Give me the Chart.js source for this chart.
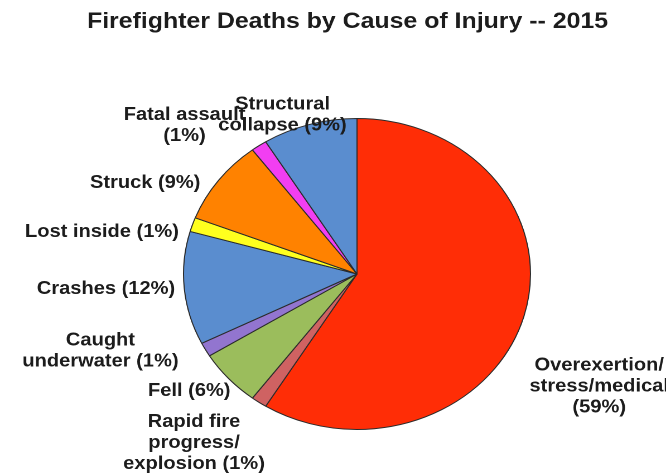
<!DOCTYPE html>
<html>
<head>
<meta charset="utf-8">
<title>Firefighter Deaths by Cause of Injury -- 2015</title>
<script src="https://cdn.jsdelivr.net/npm/chart.js@4.4.1/dist/chart.umd.min.js"></script>
<style>
  html, body { margin: 0; padding: 0; background: #fff; overflow: hidden; }
  /* the source picture is stretched sideways, so the whole chart is too */
  #wrap { width: 597px; height: 473px; transform: scaleX(1.1156); transform-origin: 0 0; }
</style>
</head>
<body>
<div id="wrap"><canvas id="causeChart" width="597" height="473"></canvas></div>
<script>
const chartTitle = "Firefighter Deaths by Cause of Injury -- 2015";

// deaths by cause, 2015 (68 in all), clockwise from 12 o'clock
// {p} is replaced with the rounded percentage
const causes = [
    "Overexertion/\nstress/medical\n({p}%)",
    "Rapid fire\nprogress/\nexplosion ({p}%)",
    "Fell ({p}%)",
    "Caught\nunderwater ({p}%)",
    "Crashes ({p}%)",
    "Lost inside ({p}%)",
    "Struck ({p}%)",
    "Fatal assault\n({p}%)",
    "Structural\ncollapse ({p}%)",
];
const deaths = [40, 1, 4, 1, 8, 1, 6, 1, 6];
const sliceColors = [
    "#ff2d06", "#cf6262", "#9bbd5c", "#9275cf", "#5a8dcf",
    "#ffff1e", "#ff8200", "#f23ef2", "#5a8dcf",
];

// label spot: [turn from slice middle in degrees, distance past the rim]
const labelSpots = [
    [11.5, 89], [6.4, 68], [4.5, 35], [10.6, 87], [1.5, 70],
    [-8.1, 77], [-11.5, 55], [-11.7, 59], [-6.9, 17],
];

const fontFamily = "'Liberation Sans', Arial, sans-serif";

const outsideLabels = {
    id: "outsideLabels",
    afterDatasetsDraw(chart) {
        const ctx = chart.ctx;
        const meta = chart.getDatasetMeta(0);
        const total = deaths.reduce((a, b) => a + b, 0);

        ctx.save();
        ctx.fillStyle = "#1c1c1c";
        ctx.textAlign = "center";
        ctx.textBaseline = "middle";

        // title sits a little left of the pie in the original
        ctx.font = "bold 22.3px " + fontFamily;
        ctx.fillText(chartTitle, 311.5, 22);

        ctx.font = "bold 18px " + fontFamily;
        meta.data.forEach(function (arc, i) {
            const pct = Math.round((deaths[i] / total) * 100);
            const lines = causes[i].replace("{p}", pct).split("\n");
            const angle = (arc.startAngle + arc.endAngle) / 2 + (labelSpots[i][0] * Math.PI) / 180;
            const dist = arc.outerRadius + labelSpots[i][1];
            const x = arc.x + Math.cos(angle) * dist;
            const y = arc.y + Math.sin(angle) * dist;

            lines.forEach(function (line, j) {
                ctx.fillText(line, x, y + (j - (lines.length - 1) / 2) * 21);
            });
        });
        ctx.restore();
    },
};

const ctx = document.getElementById("causeChart").getContext("2d");

new Chart(ctx, {
    type: "pie",
    data: {
        labels: causes,
        datasets: [
            {
                data: deaths,
                backgroundColor: sliceColors,
                borderColor: "#2b2b2b",
                borderWidth: 1,
            },
        ],
    },
    options: {
        responsive: false,
        animation: false,
        devicePixelRatio: 2,
        layout: {
            padding: { left: 120, right: 77, top: 118, bottom: 43 },
        },
        plugins: {
            legend: { display: false },
            tooltip: { enabled: false },
            title: { display: false },
        },
    },
    plugins: [outsideLabels],
});
</script>
</body>
</html>
